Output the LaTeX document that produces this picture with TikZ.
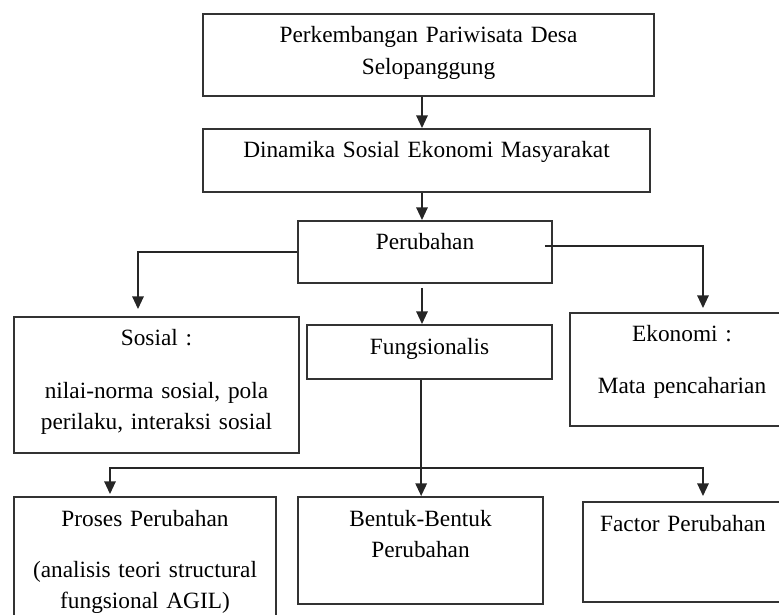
\documentclass[tikz,border=0pt]{standalone}
\usepackage{fontspec}
\setmainfont{Liberation Serif}
\usepackage{tikz}
\usetikzlibrary{arrows.meta}
\tikzstyle{arrow} = [draw=black!85, -{Triangle[length=0.38cm,width=0.34cm]}, line width=1.6pt]
\tikzstyle{line} = [draw=black!85, line width=1.6pt]
\tikzstyle{block} = [draw=black!80, rectangle, line width=1.6pt, inner sep=0pt,
    align=center, text height=0.87cm, font=\fontsize{19.9pt}{26.5pt}\selectfont]

\begin{document}
\begin{tikzpicture}[node distance = 3cm, auto]
      \useasboundingbox (0,0) rectangle (23.37,-18.45);
      % Place nodes
      \node [block, text width=13.53cm, text depth=1.59cm] (desa) at (12.855,-1.65) {Perkembangan Pariwisata Desa\\Selopanggung};
      \node [block, below of=desa, node distance=3.165cm, xshift=-0.06cm, text width=13.41cm, text depth=1.02cm] (dinamika) {Dinamika Sosial Ekonomi Masyarakat};
      \node [block, below of=dinamika, node distance=2.745cm, xshift=-0.045cm, text width=7.62cm, text depth=0.99cm] (perubahan) {Perubahan};
      \node [block, below of=perubahan, node distance=3cm, xshift=0.135cm, text width=7.35cm, text depth=0.75cm] (fungsionalis) {Fungsionalis};

      \node [block, left of=fungsionalis, node distance=8.19cm, yshift=-0.99cm, text width=8.55cm, text depth=3.21cm] (sosial) {Sosial :\\[0.63cm]nilai-norma sosial, pola\\perilaku, interaksi sosial};
      \node [block, right of=fungsionalis, node distance=7.575cm, yshift=-0.525cm, text width=6.72cm, text depth=2.52cm] (ekonomi) {Ekonomi :\\[0.6cm]Mata pencaharian};

      \node [block, below of=fungsionalis, node distance=5.955cm, xshift=-0.27cm, text width=7.35cm, text depth=2.34cm] (bentuk) {Bentuk-Bentuk\\Perubahan};
      \node [block, left of=bentuk, node distance=8.265cm, yshift=-0.54cm, text width=7.86cm, text depth=3.42cm] (proses) {Proses Perubahan\\[0.6cm](analisis teori structural\\fungsional AGIL)};
      \node [block, right of=bentuk, node distance=7.875cm, yshift=-0.045cm, text width=6cm, text depth=2.13cm] (factor) {Factor Perubahan};

      \coordinate [xshift=-0.195cm] (spine) at (desa.south);
      \coordinate [xshift=0.02cm] (stem) at (bentuk.north);
      \coordinate (split) at ([yshift=-2.64cm]fungsionalis.south -| stem);

      \path [arrow] (desa.south -| spine) -- (dinamika.north -| spine);
      \path [arrow] (dinamika.south -| spine) -- (perubahan.north -| spine);
      \path [arrow, shorten <=0.12cm] (perubahan.south -| spine) -- (fungsionalis.north -| spine);
      \path [arrow, shorten >=0.21cm] (perubahan.west) -| ([xshift=-0.555cm]sosial.north);
      \path [arrow, shorten >=0.12cm] ([xshift=-0.24cm,yshift=0.18cm]perubahan.east) -| ([xshift=0.63cm]ekonomi.north);
      \path [arrow] (fungsionalis.south -| stem) -- (stem);
      \path [arrow, shorten >=0.06cm] (split) -| ([xshift=-1.05cm]proses.north);
      \path [arrow, shorten >=0.15cm] (split) -| ([xshift=0.6cm]factor.north);

  \end{tikzpicture}
\end{document}
